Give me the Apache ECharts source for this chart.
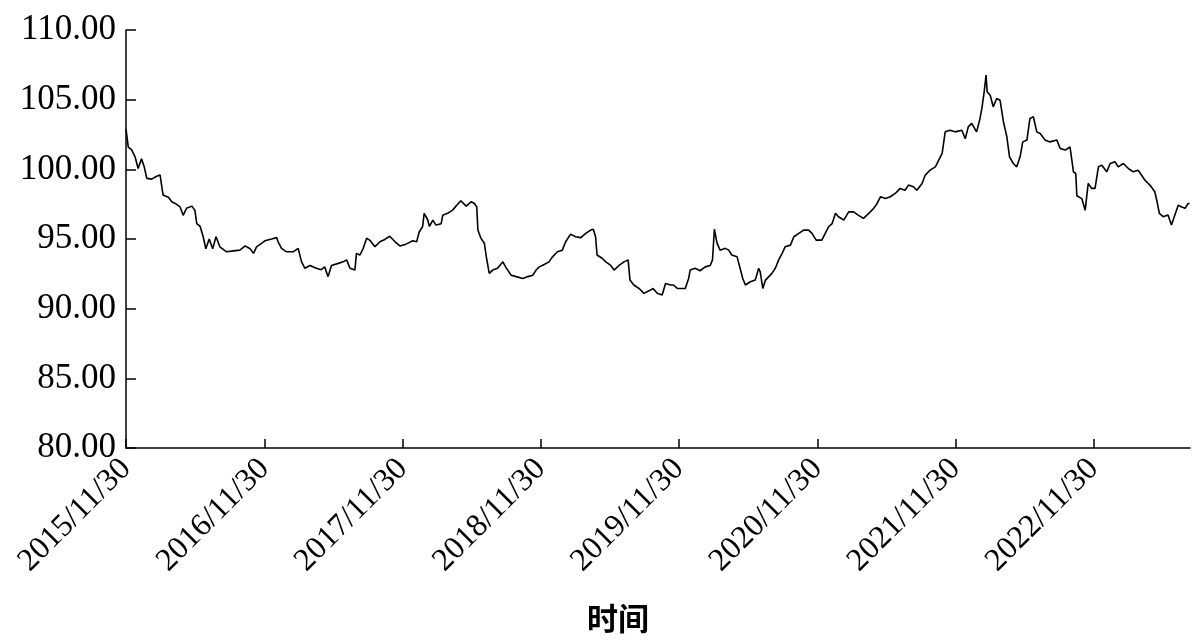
<!DOCTYPE html>
<html>
<head>
<meta charset="utf-8">
<script src="https://cdn.jsdelivr.net/npm/echarts@6/dist/echarts.min.js"></script>
<style>
html,body{margin:0;padding:0;background:#fff;}
#chart{width:1196px;height:642px;}
</style>
</head>
<body>
<div id="chart"></div>
<script>
const tickLabels = ['2015/11/30','2016/11/30','2017/11/30','2018/11/30','2019/11/30','2020/11/30','2021/11/30','2022/11/30'];
const axisStart = '2015/11/30';
const axisEnd = '2023/08/12';
const yTicks = [80, 85, 90, 95, 100, 105, 110];
const axisTitle = '时间';

const dates = [
'2015-11-30','2015-12-06','2015-12-15','2015-12-24','2016-01-01','2016-01-10','2016-01-17','2016-01-24','2016-02-06','2016-02-19',
'2016-02-28','2016-03-07','2016-03-21','2016-03-30','2016-04-08','2016-04-21','2016-04-29','2016-05-08','2016-05-22','2016-05-30',
'2016-06-04','2016-06-13','2016-06-21','2016-06-28','2016-07-07','2016-07-16','2016-07-25','2016-08-04','2016-08-22','2016-09-09',
'2016-09-26','2016-10-10','2016-10-23','2016-11-01','2016-11-09','2016-11-23',
'2016-12-01','2016-12-19','2017-01-01','2017-01-05','2017-01-14','2017-01-27','2017-02-14','2017-02-27','2017-03-08','2017-03-17',
'2017-03-30','2017-04-16','2017-04-29','2017-05-08','2017-05-17','2017-05-26','2017-06-13','2017-06-26','2017-07-05','2017-07-14',
'2017-07-27','2017-07-31','2017-08-09','2017-08-18','2017-08-27','2017-09-05','2017-09-18','2017-10-01','2017-10-14','2017-10-27',
'2017-11-10','2017-11-23',
'2017-12-09','2017-12-27','2018-01-06','2018-01-13','2018-01-22','2018-01-26','2018-02-04','2018-02-09','2018-02-18','2018-02-26',
'2018-03-12','2018-03-16','2018-03-29','2018-04-11','2018-04-20','2018-05-03','2018-05-17','2018-05-30','2018-06-08','2018-06-14',
'2018-06-17','2018-06-25','2018-07-04','2018-07-10','2018-07-17','2018-07-26','2018-08-08','2018-08-22','2018-08-30','2018-09-13',
'2018-09-26','2018-10-14','2018-10-27','2018-11-09','2018-11-18','2018-11-26',
'2018-12-04','2018-12-22','2018-12-30','2019-01-13','2019-01-26','2019-02-04','2019-02-17','2019-03-02','2019-03-16','2019-03-29',
'2019-04-11','2019-04-18','2019-04-24','2019-04-28','2019-05-12','2019-05-21','2019-06-03','2019-06-12','2019-06-25','2019-07-08',
'2019-07-19','2019-07-24','2019-08-03','2019-08-17','2019-08-30','2019-09-12','2019-09-23','2019-10-04','2019-10-17','2019-10-26',
'2019-11-08','2019-11-16','2019-11-26',
'2019-12-17','2019-12-26','2019-12-30','2020-01-12','2020-01-25','2020-02-08','2020-02-21','2020-02-27','2020-03-03','2020-03-10',
'2020-03-18','2020-04-01','2020-04-10','2020-04-18','2020-05-02','2020-05-10','2020-05-17','2020-05-24','2020-06-06','2020-06-19',
'2020-06-28','2020-07-02','2020-07-09','2020-07-16','2020-07-25','2020-08-02','2020-08-11','2020-08-20','2020-08-29','2020-09-06',
'2020-09-20','2020-09-29','2020-10-12','2020-10-25','2020-11-07','2020-11-16','2020-11-27',
'2020-12-12','2020-12-21','2020-12-30','2021-01-08','2021-01-17','2021-01-25','2021-02-08','2021-02-21','2021-03-06','2021-03-19',
'2021-04-01','2021-04-15','2021-04-28','2021-05-07','2021-05-16','2021-05-29','2021-06-11','2021-06-24','2021-07-07','2021-07-20',
'2021-07-29','2021-08-11','2021-08-20','2021-09-03','2021-09-11','2021-09-24','2021-10-08','2021-10-17','2021-10-26','2021-11-03',
'2021-11-16','2021-11-29',
'2021-12-17','2021-12-26','2022-01-03','2022-01-12','2022-01-25','2022-02-03','2022-02-08','2022-02-14','2022-02-19','2022-02-22',
'2022-03-02','2022-03-10','2022-03-19','2022-03-28','2022-04-06','2022-04-15','2022-04-22','2022-05-02','2022-05-11','2022-05-20',
'2022-05-27','2022-06-07','2022-06-15','2022-06-24','2022-07-03','2022-07-12','2022-07-25','2022-08-07','2022-08-25','2022-09-03',
'2022-09-16','2022-09-29','2022-10-08','2022-10-14','2022-10-17','2022-10-30','2022-11-08','2022-11-16','2022-11-25',
'2022-12-04','2022-12-13','2022-12-22','2023-01-04','2023-01-13','2023-01-26','2023-02-03','2023-02-17','2023-03-02','2023-03-15',
'2023-03-28','2023-04-06','2023-04-15','2023-04-28','2023-05-11','2023-05-17','2023-05-23','2023-06-02','2023-06-15','2023-06-24',
'2023-07-03','2023-07-12','2023-07-21','2023-07-30','2023-08-07','2023-08-11'
];

const values = [
102.9,101.6,101.4,100.9,100.06,100.75,100.2,99.35,99.3,99.5,
99.6,98.15,98.0,97.67,97.55,97.3,96.7,97.2,97.36,97.07,
96.1,95.9,95.16,94.3,95.0,94.3,95.16,94.44,94.08,94.15,
94.2,94.5,94.3,93.97,94.44,94.7,
94.87,95.0,95.1,94.8,94.33,94.08,94.08,94.33,93.36,92.9,
93.1,92.9,92.8,93.0,92.3,93.1,93.25,93.36,93.5,92.9,
92.77,93.97,93.85,94.33,95.05,94.9,94.44,94.8,94.97,95.2,
94.8,94.5,
94.63,94.87,94.8,95.5,95.9,96.84,96.4,95.9,96.36,96.0,
96.1,96.7,96.84,97.07,97.36,97.74,97.36,97.67,97.55,97.3,
95.64,95.05,94.7,93.6,92.53,92.77,92.9,93.36,92.96,92.4,
92.3,92.17,92.3,92.4,92.77,93.0,
93.1,93.36,93.68,94.08,94.2,94.8,95.35,95.16,95.1,95.4,
95.64,95.7,95.16,93.85,93.6,93.36,93.1,92.77,93.1,93.36,
93.5,92.05,91.7,91.45,91.1,91.28,91.45,91.1,90.98,91.8,
91.7,91.7,91.45,
91.45,92.17,92.77,92.9,92.72,93.0,93.1,93.5,95.7,94.7,
94.2,94.33,94.2,93.85,93.72,92.9,92.17,91.7,91.93,92.05,
92.9,92.65,91.45,92.05,92.3,92.53,92.9,93.5,93.97,94.44,
94.56,95.16,95.4,95.64,95.64,95.4,94.92,
94.92,95.4,95.88,96.1,96.84,96.6,96.36,96.95,96.95,96.7,
96.48,96.84,97.2,97.55,98.03,97.9,98.03,98.27,98.63,98.5,
98.87,98.75,98.5,98.99,99.58,99.94,100.18,100.66,101.14,102.69,
102.8,102.69,
102.8,102.2,103.05,103.3,102.69,103.65,104.37,105.56,106.76,105.56,
105.32,104.48,105.08,104.96,103.4,102.33,100.9,100.42,100.18,100.9,
101.97,102.1,103.65,103.78,102.69,102.57,102.1,101.97,102.1,101.5,
101.38,101.6,99.82,99.7,98.1,97.9,97.07,98.99,98.63,
98.63,100.18,100.3,99.82,100.42,100.54,100.18,100.42,100.06,99.82,
99.94,99.58,99.22,98.87,98.39,97.67,96.84,96.6,96.72,96.0,
96.72,97.43,97.3,97.2,97.55,97.55
];

function toTime(s) {
  const p = s.split(/[\/-]/).map(Number);
  return new Date(p[0], p[1] - 1, p[2]).getTime();
}
const tickTimes = tickLabels.map(toTime);
const seriesData = dates.map((d, i) => [toTime(d), values[i]]);

const serif = "'Liberation Serif', 'Times New Roman', serif";
const chart = echarts.init(document.getElementById('chart'));
chart.setOption({
  animation: false,
  backgroundColor: '#fff',
  grid: { left: 126, right: 6, top: 30, bottom: 194 },
  xAxis: {
    type: 'value',
    min: toTime(axisStart),
    max: toTime(axisEnd),
    splitLine: { show: false },
    axisLine: { lineStyle: { color: '#000', width: 1.5 } },
    axisTick: { show: true, inside: true, length: 9, customValues: tickTimes, lineStyle: { color: '#000', width: 1.5 } },
    axisLabel: {
      customValues: tickTimes,
      rotate: 45,
      margin: 16,
      color: '#000',
      fontFamily: serif,
      fontSize: 32,
      formatter: function (v) {
        const i = tickTimes.indexOf(v);
        return i >= 0 ? tickLabels[i] : '';
      }
    }
  },
  yAxis: {
    type: 'value',
    min: yTicks[0],
    max: yTicks[yTicks.length - 1],
    interval: 5,
    splitLine: { show: false },
    axisLine: { show: true, lineStyle: { color: '#000', width: 1.5 } },
    axisTick: { show: true, inside: true, length: 10, lineStyle: { color: '#000', width: 1.5 } },
    axisLabel: {
      color: '#000',
      fontFamily: serif,
      fontSize: 35,
      margin: 10,
      formatter: function (v) { return v.toFixed(2); }
    }
  },
  graphic: [{
    type: 'text',
    left: 587,
    top: 603,
    style: {
      text: axisTitle,
      fill: '#000',
      font: "bold 31px 'Noto Sans CJK SC', serif"
    }
  }],
  series: [{
    type: 'line',
    data: seriesData,
    showSymbol: false,
    symbol: 'none',
    lineStyle: { color: '#000', width: 1.6 }
  }]
});
</script>
</body>
</html>
